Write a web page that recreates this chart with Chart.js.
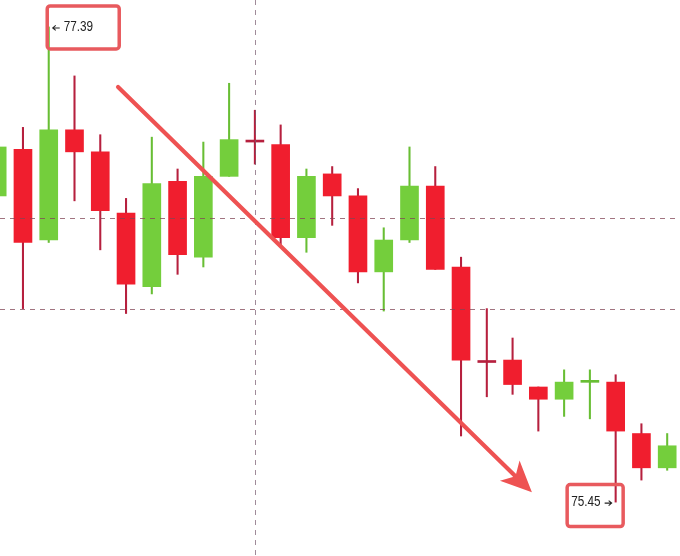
<!DOCTYPE html>
<html>
<head>
<meta charset="utf-8">
<script src="https://cdn.jsdelivr.net/npm/chart.js@4.4.1/dist/chart.umd.min.js"></script>
<style>
  html, body { margin: 0; padding: 0; background: #ffffff; }
  canvas { display: block; }
</style>
</head>
<body>
<canvas id="myChart" width="680" height="556"></canvas>
<script>
// candle values
const opens  = [76.70, 76.89, 76.52, 76.97, 76.88, 76.63, 76.33, 76.76, 76.45, 76.78, 76.921, 76.91, 76.53, 76.79, 76.70, 76.39, 76.52, 76.74, 76.41, 76.022, 76.03, 75.92, 75.87, 75.939, 75.94, 75.73, 75.59];
const closes = [76.90, 76.51, 76.97, 76.88, 76.64, 76.34, 76.75, 76.46, 76.78, 76.93, 76.920, 76.53, 76.78, 76.70, 76.39, 76.52, 76.74, 76.40, 76.03, 76.020, 75.93, 75.87, 75.94, 75.940, 75.74, 75.59, 75.68];
const highs  = [76.93, 76.98, 77.39, 77.19, 76.95, 76.69, 76.94, 76.81, 76.92, 77.16, 77.05, 76.99, 76.81, 76.82, 76.73, 76.57, 76.90, 76.82, 76.45, 76.24, 76.12, 75.92, 75.99, 75.99, 75.97, 75.77, 75.73];
const lows   = [76.67, 76.24, 76.51, 76.68, 76.48, 76.22, 76.30, 76.38, 76.41, 76.78, 76.83, 76.50, 76.47, 76.58, 76.345, 76.23, 76.51, 76.40, 75.72, 75.88, 75.89, 75.74, 75.80, 75.79, 75.45, 75.54, 75.58];

// drawn levels / markers
const levelLines = [76.61, 76.24];
const crosshairIndex = 10;
const arrowFrom = [4.69, 77.145];
const arrowTo = [20.75, 75.49];
const highMark = { index: 2, value: 77.39, text: '77.39' };
const lowMark = { index: 24, value: 75.45, text: '75.45' };

const upColor = 'rgb(116,206,60)';
const downColor = 'rgb(240,30,46)';
const upWick = 'rgb(104,190,52)';
const downWick = 'rgb(182,32,62)';

const idx = opens.map((_, i) => i);

const bodyData = idx.map(i => ({ x: i, y: [opens[i], closes[i]] }));
const wickData = idx.map(i => ({ x: i, y: [lows[i], highs[i]] }));

const isUp = idx.map(i => closes[i] >= opens[i]);
const bodyColors = idx.map(i => {
    const doji = Math.abs(closes[i] - opens[i]) < 0.005;
    if (doji) return isUp[i] ? upWick : downWick;
    return isUp[i] ? upColor : downColor;
});
const wickColors = idx.map(i => isUp[i] ? upWick : downWick);

// lines, arrow and price boxes drawn on top
const markupPlugin = {
    id: 'markup',
    afterDatasetsDraw(chart) {
        const ctx = chart.ctx;
        const xs = chart.scales.x;
        const ys = chart.scales.y;
        const area = chart.chartArea;

        ctx.save();
        ctx.setLineDash([5, 5]);
        ctx.lineWidth = 1;
        ctx.strokeStyle = 'rgba(130,70,85,0.75)';
        levelLines.forEach(v => {
            const y = Math.round(ys.getPixelForValue(v)) + 0.5;
            ctx.beginPath();
            ctx.moveTo(area.left, y);
            ctx.lineTo(area.right, y);
            ctx.stroke();
        });
        ctx.strokeStyle = 'rgba(120,90,110,0.7)';
        const cx = Math.round(xs.getPixelForValue(crosshairIndex)) + 0.5;
        ctx.beginPath();
        ctx.moveTo(cx, area.top);
        ctx.lineTo(cx, area.bottom);
        ctx.stroke();
        ctx.restore();

        // trend arrow
        const x1 = xs.getPixelForValue(arrowFrom[0]);
        const y1 = ys.getPixelForValue(arrowFrom[1]);
        const x2 = xs.getPixelForValue(arrowTo[0]);
        const y2 = ys.getPixelForValue(arrowTo[1]);
        const ang = Math.atan2(y2 - y1, x2 - x1);
        const headLen = 31, headW = 14, notch = 8;
        const bx = x2 - headLen * Math.cos(ang);
        const by = y2 - headLen * Math.sin(ang);
        const nx = x2 - (headLen - notch) * Math.cos(ang);
        const ny = y2 - (headLen - notch) * Math.sin(ang);
        ctx.save();
        ctx.strokeStyle = 'rgb(238,82,82)';
        ctx.fillStyle = 'rgb(238,82,82)';
        ctx.lineWidth = 4.2;
        ctx.lineCap = 'round';
        ctx.beginPath();
        ctx.moveTo(x1, y1);
        ctx.lineTo(nx, ny);
        ctx.stroke();
        ctx.beginPath();
        ctx.moveTo(x2, y2);
        ctx.lineTo(bx + headW * Math.sin(ang), by - headW * Math.cos(ang));
        ctx.lineTo(nx, ny);
        ctx.lineTo(bx - headW * Math.sin(ang), by + headW * Math.cos(ang));
        ctx.closePath();
        ctx.fill();
        ctx.restore();

        // price boxes
        drawBox(ctx, xs, ys, highMark, true);
        drawBox(ctx, xs, ys, lowMark, false);
    }
};

function drawText(ctx, str, x, y, size) {
    ctx.save();
    ctx.translate(x, y);
    ctx.scale(0.84, 1);
    ctx.font = size + 'px "Liberation Sans", Arial, sans-serif';
    ctx.fillText(str, 0, 0);
    ctx.restore();
}

// small pointer arrow next to the price text
function drawPointer(ctx, x, y, dir) {
    const tip = x + dir * 7;
    ctx.save();
    ctx.strokeStyle = '#222222';
    ctx.lineWidth = 1.1;
    ctx.beginPath();
    ctx.moveTo(x, y);
    ctx.lineTo(tip, y);
    ctx.moveTo(tip - dir * 3, y - 2.5);
    ctx.lineTo(tip, y);
    ctx.lineTo(tip - dir * 3, y + 2.5);
    ctx.stroke();
    ctx.restore();
}

function drawBox(ctx, xs, ys, mark, isHigh) {
    const ax = xs.getPixelForValue(mark.index);
    const ay = ys.getPixelForValue(mark.value);
    let left, top, w, h;
    if (isHigh) {
        left = ax - 1.5; top = ay - 21; w = 72; h = 43;
    } else {
        left = ax - 48.5; top = ay - 17.5; w = 56; h = 42;
    }
    ctx.save();
    ctx.strokeStyle = 'rgb(232,90,94)';
    ctx.lineWidth = 3.5;
    ctx.beginPath();
    ctx.roundRect(left, top, w, h, 3);
    ctx.stroke();

    ctx.fillStyle = '#222222';
    ctx.textBaseline = 'middle';
    if (isHigh) {
        drawPointer(ctx, ax + 11, ay + 1, -1);
        drawText(ctx, mark.text, ax + 15, ay, 14);
    } else {
        drawText(ctx, mark.text, ax - 44.5, ay, 14);
        drawPointer(ctx, ax - 11, ay + 1, 1);
    }
    ctx.restore();
}

const config = {
    type: 'bar',
    data: {
        datasets: [{
            label: 'body',
            data: bodyData,
            backgroundColor: bodyColors,
            borderWidth: 0,
            barThickness: 18,
            minBarLength: 2,
            grouped: false,
            order: 0
        }, {
            label: 'wick',
            data: wickData,
            backgroundColor: wickColors,
            borderWidth: 0,
            barThickness: 1.4,
            grouped: false,
            order: 1
        }]
    },
    options: {
        responsive: false,
        animation: false,
        layout: { padding: 0 },
        plugins: {
            legend: { display: false },
            tooltip: { enabled: false }
        },
        scales: {
            x: {
                type: 'linear',
                display: false,
                offset: false,
                min: 0.109,
                max: 26.497
            },
            y: {
                display: false,
                min: 75.23,
                max: 77.50
            }
        }
    },
    plugins: [markupPlugin]
};

const chart = new Chart(document.getElementById('myChart'), config);
</script>
</body>
</html>
